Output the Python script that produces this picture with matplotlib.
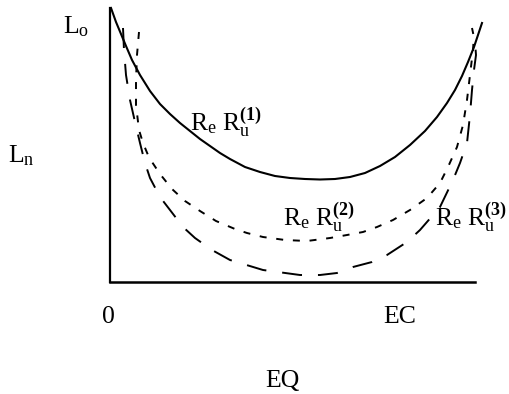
"""U-shaped loss curves L vs EQ for three R_e R_u combinations."""

import matplotlib
matplotlib.use("Agg")
import matplotlib.pyplot as plt

plt.rcParams["font.family"] = ["Liberation Serif", "DejaVu Serif"]
plt.rcParams["mathtext.fontset"] = "custom"
plt.rcParams["mathtext.rm"] = "Liberation Serif"
plt.rcParams["mathtext.it"] = "Liberation Serif:italic"
plt.rcParams["mathtext.bf"] = "Liberation Serif:bold"

# curve (1): solid
eq_1 = [1, 6, 11, 16, 22, 30, 40, 50, 60, 70, 80, 90, 100, 110, 120, 135,
        150, 165, 180, 195, 210, 225, 240, 255, 270, 285, 300, 315, 327, 337,
        345, 352, 358, 364, 368, 372]
l_1 = [274, 260, 248, 236, 222, 207, 191, 178, 168, 159, 151, 143, 136, 129,
       123, 115, 110, 106, 104, 103, 102.5, 103, 105, 109, 116, 125, 137, 151,
       165, 179, 192, 206, 220, 235, 247, 259]

# curve (2): short dashes
eq_2 = [29, 27, 26, 26, 29, 33, 38, 42, 50, 62, 75, 90, 106, 125, 137, 153,
        175, 197, 220, 237, 253, 267, 283, 300, 317, 330, 338, 347, 353, 357,
        360, 363, 364]
l_2 = [250, 227, 202, 177, 152, 139, 127, 120, 108, 93, 81, 71, 61, 53, 49, 45,
       42, 41, 44, 47, 50, 55, 62, 72, 84, 99, 115, 135, 157, 182,
       207, 232, 247]

# curve (3): long dashes
eq_3 = [13, 14, 16, 20, 25, 30, 35, 40, 50, 60, 73, 85, 102, 120, 153, 190,
        210, 227, 243, 262, 277, 297, 310, 330, 343, 350, 357, 360, 362, 364,
        366, 365, 362]
l_3 = [254, 232, 207, 182, 160, 139, 119, 104, 85, 72, 55, 44, 32, 22, 12, 7,
       7, 9, 15, 20, 27, 40, 52, 75, 102, 119, 139, 167, 192, 212,
       227, 240, 254]

curve_labels = [r"R$_\mathrm{e}$ R$_\mathrm{u}^{\mathbf{(1)}}$",
                r"R$_\mathrm{e}$ R$_\mathrm{u}^{\mathbf{(2)}}$",
                r"R$_\mathrm{e}$ R$_\mathrm{u}^{\mathbf{(3)}}$"]

fig = plt.figure(figsize=(5.1, 3.94), dpi=100)
ax = fig.add_axes([110 / 510, 112 / 394, 365 / 510, 274 / 394])
ax.set_xlim(0, 365)
ax.set_ylim(0, 274)

ax.plot(eq_1, l_1, color="black", lw=1.5, clip_on=False)
ax.plot(eq_2, l_2, color="black", lw=1.4, dashes=(3.6, 5.0), clip_on=False)
ax.plot(eq_3, l_3, color="black", lw=1.4, dashes=(10.3, 8.2), clip_on=False)

for s in ["top", "right"]:
    ax.spines[s].set_visible(False)
ax.spines["left"].set_linewidth(1.6)
ax.spines["bottom"].set_linewidth(1.8)
ax.set_xticks([])
ax.set_yticks([])

fs = 18.5
kw = dict(fontsize=fs, color="black", clip_on=False, va="baseline")
ax.text(80, 152, curve_labels[0], ha="left", **kw)
ax.text(173, 57, curve_labels[1], ha="left", **kw)
ax.text(325, 57, curve_labels[2], ha="left", **kw)

ax.text(-47, 249, r"L$_\mathrm{o}$", ha="left", **kw)
ax.text(-102, 120, r"L$_\mathrm{n}$", ha="left", **kw)
ax.text(-2, -41, "0", ha="center", **kw)
ax.text(290, -41, "EC", ha="center", **kw)
ax.text(172, -105, "EQ", ha="center", **kw)

fig.savefig("out.png", dpi=100)
